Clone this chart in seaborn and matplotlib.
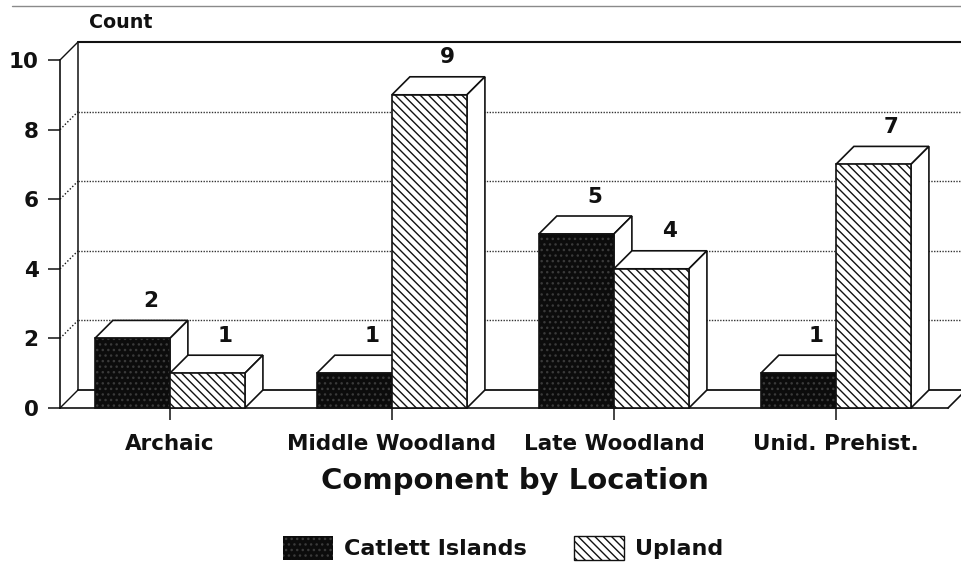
import matplotlib
matplotlib.use("Agg")
import matplotlib.pyplot as plt
from matplotlib.patches import Patch, Polygon
from matplotlib.lines import Line2D
import pandas as pd
import seaborn as sns

categories = ["Archaic", "Middle Woodland", "Late Woodland", "Unid. Prehist."]
catlett_islands = [2, 1, 5, 1]
upland = [1, 9, 4, 7]
series_names = ["Catlett Islands", "Upland"]
y_ticks = [0, 2, 4, 6, 8, 10]

W, H = 961, 569
sns.set_theme(style="white", rc={"hatch.linewidth": 1.0})
plt.rcParams["font.family"] = ["DejaVu Sans"]
plt.rcParams["font.weight"] = "bold"
plt.rcParams["text.color"] = "#111111"

df = pd.DataFrame({
    "Component": categories * 2,
    "Count": catlett_islands + upland,
    "Location": [series_names[0]] * 4 + [series_names[1]] * 4,
})

fig = plt.figure(figsize=(W / 100, H / 100), dpi=100, facecolor="white")
ax = fig.add_axes([60 / W, 1 - 408 / H, 888 / W, 348 / H])

sns.barplot(data=df, x="Component", y="Count", hue="Location", order=categories,
            hue_order=series_names, palette=["#0c0c0c", "white"], width=0.676,
            gap=0, saturation=1, legend=False, ax=ax, errorbar=None)

ax.set_xlim(-0.495, 3.505)
ax.set_ylim(0, 10)
dx = 18 / 222
dy = 18 / 34.8
x0, x1 = ax.get_xlim()
INK = "#111111"

# back wall and floor of the pseudo 3-D frame
ax.plot([x0 + dx, x0 + dx], [dy, 10 + dy], color=INK, lw=1.1, clip_on=False, zorder=1)
ax.plot([x0 + dx, x1 + dx], [10 + dy, 10 + dy], color=INK, lw=1.5, clip_on=False, zorder=1)
ax.plot([x0 + dx, x1 + dx], [dy, dy], color=INK, lw=1.3, clip_on=False, zorder=1)
ax.plot([x1, x1 + dx], [0, dy], color=INK, lw=1.2, clip_on=False, zorder=1)
for t in y_ticks:
    solid = t in (0, 10)
    ax.plot([x0, x0 + dx], [t, t + dy], color=INK, lw=1.0,
            ls="-" if solid else (0, (1, 1.5)), clip_on=False, zorder=1)
    if not solid:
        ax.plot([x0 + dx, x1 + dx], [t + dy, t + dy], color="#333333", lw=1.0,
                ls=(0, (1, 1)), clip_on=False, zorder=1)

# bars: hatching, depth faces, value labels
styles = [("#0c0c0c", "...", "#3a3a3a"), ("white", "\\\\\\\\", INK)]
for k, container in enumerate(ax.containers):
    face, hatch, hatch_col = styles[k]
    for patch, value in zip(container.patches, container.datavalues):
        x, w = patch.get_x(), patch.get_width()
        order = 2 + k * 2
        patch.set(facecolor=face, hatch=hatch, edgecolor=hatch_col, linewidth=0, zorder=order + 1)
        ax.add_patch(plt.Rectangle((x, 0), w, value, fill=False, edgecolor=INK, lw=1.2,
                                   zorder=order + 1.5, clip_on=False))
        ax.add_patch(Polygon([(x, value), (x + dx, value + dy), (x + w + dx, value + dy),
                              (x + w, value)], closed=True, facecolor="white",
                             edgecolor=INK, lw=1.2, zorder=order, clip_on=False))
        ax.add_patch(Polygon([(x + w, 0), (x + w + dx, dy), (x + w + dx, value + dy),
                              (x + w, value)], closed=True, facecolor="white",
                             edgecolor=INK, lw=1.2, zorder=order, clip_on=False))
        ax.annotate(f"{value:g}", (x + w / 2 + dx, value + dy), xytext=(0, 14),
                    textcoords="offset points", ha="center", va="center",
                    fontsize=15.5, fontweight="bold", color=INK, zorder=10, annotation_clip=False)

# axes
sns.despine(ax=ax, top=True, right=True)
for side in ("left", "bottom"):
    ax.spines[side].set_color(INK)
    ax.spines[side].set_linewidth(1.2)
    ax.spines[side].set_zorder(1.5)
ax.set_yticks(y_ticks)
ax.tick_params(axis="y", length=8.5, width=1.1, color=INK, left=True, pad=7, labelsize=15.5, labelcolor=INK)
ax.tick_params(axis="x", length=8.5, width=1.1, color=INK, bottom=True, pad=10.5, labelsize=15.5, labelcolor=INK)
for lab in ax.get_xticklabels() + ax.get_yticklabels():
    lab.set_fontweight("bold")
ax.set_ylabel("")
ax.set_xlabel("Component by Location", fontsize=21, fontweight="bold", color=INK,
              x=(515 - 60) / 888, labelpad=9)

fig.text(89 / W, 1 - 22 / H, "Count", fontsize=13.7, fontweight="bold", color=INK,
         ha="left", va="center")

# scanned page edge at the top
fig.add_artist(Line2D([12 / W, 1], [1 - 6 / H, 1 - 6 / H], color="#8a8a8a", lw=1.0))

handles = [
    Patch(facecolor=styles[0][0], hatch=styles[0][1], edgecolor=styles[0][2], lw=0, label=series_names[0]),
    Patch(facecolor=styles[1][0], hatch=styles[1][1], edgecolor=styles[1][2], lw=1, label=series_names[1]),
]
fig.legend(handles=handles, ncol=2, loc="center", bbox_to_anchor=(503 / W, 1 - 548 / H),
           frameon=False, prop={"size": 16, "weight": "bold"}, handlelength=2.27,
           handleheight=1.25, handletextpad=0.5, columnspacing=2.1, borderpad=0)

fig.savefig("out.png", dpi=100)
